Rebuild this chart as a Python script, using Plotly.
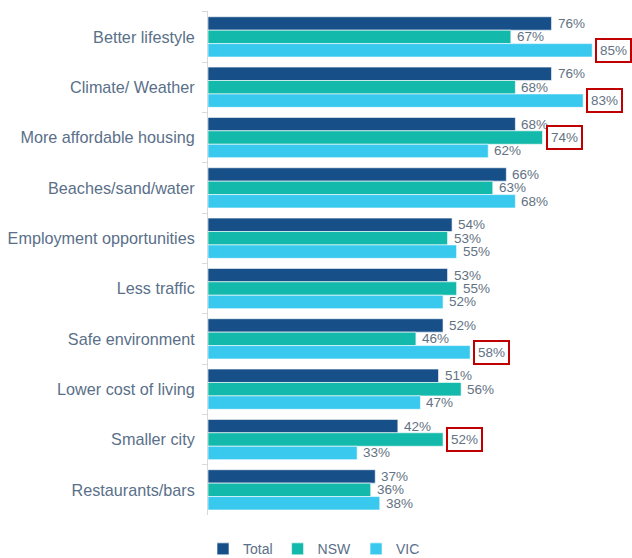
import plotly.graph_objects as go

categories = ["Better lifestyle", "Climate/ Weather", "More affordable housing",
              "Beaches/sand/water", "Employment opportunities", "Less traffic",
              "Safe environment", "Lower cost of living", "Smaller city", "Restaurants/bars"]
total = [76, 76, 68, 66, 54, 53, 52, 51, 42, 37]
nsw = [67, 68, 74, 63, 53, 55, 46, 56, 52, 36]
vic = [85, 83, 62, 68, 55, 52, 58, 47, 33, 38]
highlight_nsw = ["More affordable housing", "Smaller city"]
highlight_vic = ["Better lifestyle", "Climate/ Weather", "Safe environment"]

series = [("Total", total, "#175089", 13.4, []),
          ("NSW", nsw, "#13B9AA", 0, highlight_nsw),
          ("VIC", vic, "#39C9EF", -13.4, highlight_vic)]

fig = go.Figure()
annotations = []
for name, vals, color, ysh, hl in series:
    fig.add_trace(go.Bar(y=categories, x=vals, name=name, orientation="h",
                         marker=dict(color=color, line=dict(color="white", width=0.6))))
    for c, v in zip(categories, vals):
        boxed = c in hl
        annotations.append(dict(
            x=v, y=c, xref="x", yref="y", text=f"{v}%", showarrow=False,
            xanchor="left", xshift=3 if boxed else 6, yshift=ysh,
            font=dict(size=13.5, color="#637282", family="Liberation Sans, Arial"),
            bordercolor="#C00000" if boxed else None,
            borderwidth=2 if boxed else 0, borderpad=3 if boxed else 0,
            bgcolor="white" if boxed else None))

fig.update_layout(
    width=632, height=558, barmode="group", bargap=0.2, bargroupgap=0,
    margin=dict(l=208, r=0, t=11, b=43, autoexpand=False),
    paper_bgcolor="white", plot_bgcolor="white",
    font=dict(family="Liberation Sans, Arial", color="#5a7089"),
    annotations=annotations,
    legend=dict(orientation="h", x=0.25, xanchor="center",
                y=-0.068, yanchor="middle",
                font=dict(size=14, color="#5a7089"), traceorder="normal",
                itemwidth=30, tracegroupgap=0),
    xaxis=dict(range=[0, 93.8], visible=False),
    yaxis=dict(autorange="reversed", type="category", showline=True, linecolor="#d9d9d9",
               linewidth=1, ticks="outside", tickson="boundaries", ticklen=5,
               tickcolor="#d9d9d9", tickfont=dict(size=16.2, color="#5a7089"),
               ticklabelstandoff=9, showgrid=False),
)
fig.write_html("out.html")
